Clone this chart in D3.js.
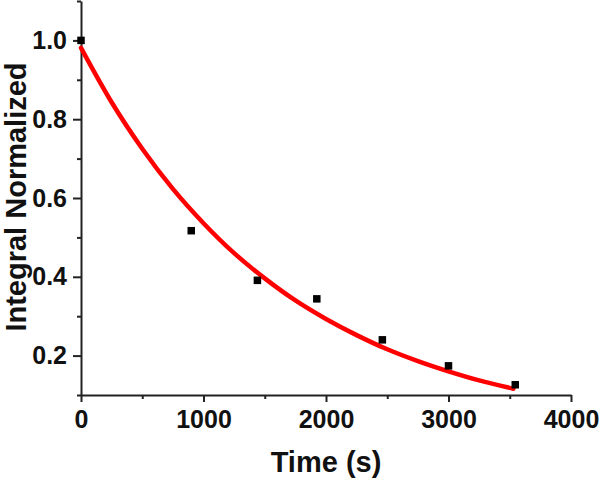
<!DOCTYPE html>
<html>
<head>
<meta charset="utf-8">
<script src="https://cdn.jsdelivr.net/npm/d3@7"></script>
<style>
  html, body { margin: 0; padding: 0; background: #fff; }
  svg { display: block; }
  .tick text { font-family: "Liberation Sans", Arial, sans-serif; font-weight: bold; font-size: 25px; fill: #111; }
</style>
</head>
<body>
<svg id="chart" width="600" height="481"></svg>
<script>
// Measured data points
const timeS = [0, 900, 1440, 1925, 2460, 3000, 3545];
const integralNorm = [1.0, 0.517, 0.391, 0.344, 0.240, 0.174, 0.126];

// Fitted curve
const fitTime = [0, 250, 500, 750, 1000, 1250, 1500, 1750, 2000, 2250, 2500, 2750, 3000, 3250, 3530];
const fitValue = [0.981, 0.843, 0.725, 0.623, 0.536, 0.460, 0.396, 0.340, 0.293, 0.252, 0.216, 0.186, 0.160, 0.137, 0.116];

const xMajorTicks = [0, 1000, 2000, 3000, 4000];
const xMinorTicks = [500, 1500, 2500, 3500];
const yMajorTicks = [0.2, 0.4, 0.6, 0.8, 1.0];
const yMinorTicks = [0.1, 0.3, 0.5, 0.7, 0.9, 1.1];

const xTitle = "Time (s)";
const yTitle = "Integral Normalized";

const svg = d3.select("#chart");
const x = d3.scaleLinear().domain([0, 4000]).range([81, 571]);
const y = d3.scaleLinear().domain([0.1, 1.1]).range([395, 1]);
const axisColor = "#222";

// Minor ticks
svg.append("g").attr("transform", "translate(0,395)")
  .call(d3.axisBottom(x).tickValues(xMinorTicks).tickSize(4).tickFormat(""))
  .call(g => g.select(".domain").remove());
svg.append("g").attr("transform", "translate(81,0)")
  .call(d3.axisLeft(y).tickValues(yMinorTicks).tickSize(4).tickFormat(""))
  .call(g => g.select(".domain").remove());

// Major axes
const xAxis = svg.append("g").attr("transform", "translate(0,395)")
  .call(d3.axisBottom(x).tickValues(xMajorTicks).tickSize(7).tickPadding(8).tickSizeOuter(0).tickFormat(d3.format("d")));
const yAxis = svg.append("g").attr("transform", "translate(81,0)")
  .call(d3.axisLeft(y).tickValues(yMajorTicks).tickSize(8).tickPadding(6).tickSizeOuter(0).tickFormat(d3.format(".1f")));

svg.selectAll(".domain, .tick line").attr("stroke", axisColor).attr("stroke-width", 2);

// Fit curve
const line = d3.line().x((d, i) => x(fitTime[i])).y(d => y(d)).curve(d3.curveMonotoneX);
svg.append("path").datum(fitValue)
  .attr("d", line).attr("fill", "none").attr("stroke", "#f00")
  .attr("stroke-width", 4.5).attr("stroke-linecap", "round");

// Markers
const ms = 7.5;
svg.append("g").selectAll("rect").data(integralNorm).join("rect")
  .attr("x", (d, i) => x(timeS[i]) - ms / 2)
  .attr("y", d => y(d) - ms / 2)
  .attr("width", ms).attr("height", ms)
  .attr("fill", "#000");

// Titles
svg.append("text")
  .attr("x", 326).attr("y", 472)
  .attr("text-anchor", "middle")
  .attr("font-family", "Liberation Sans, Arial, sans-serif")
  .attr("font-weight", "bold").attr("font-size", 29).attr("fill", "#111")
  .text(xTitle);
svg.append("text")
  .attr("transform", "translate(26,197) rotate(-90)")
  .attr("text-anchor", "middle")
  .attr("font-family", "Liberation Sans, Arial, sans-serif")
  .attr("font-weight", "bold").attr("font-size", 29).attr("fill", "#111")
  .text(yTitle);
</script>
</body>
</html>
